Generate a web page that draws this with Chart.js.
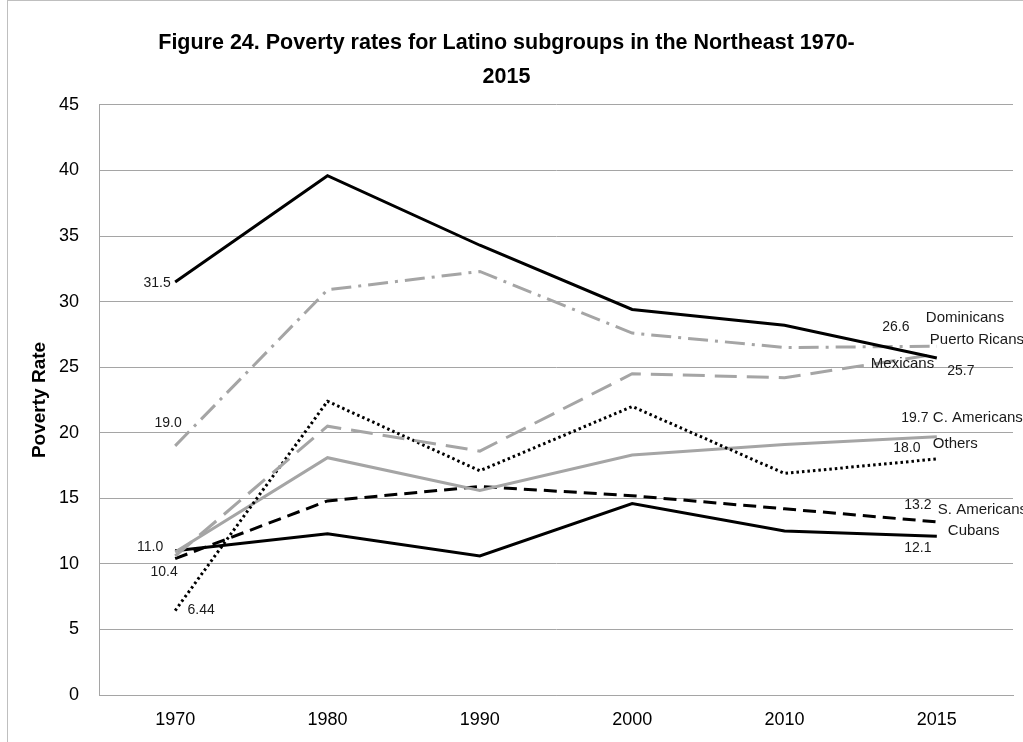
<!DOCTYPE html>
<html>
<head>
<meta charset="utf-8">
<title>Figure 24</title>
<script src="https://cdn.jsdelivr.net/npm/chart.js@4.4.1/dist/chart.umd.min.js"></script>
<style>
  html, body { margin: 0; padding: 0; background: #fff; overflow: hidden; }
  #wrap { position: relative; width: 1023px; height: 742px; }
  #frame { position: absolute; left: 7px; top: 0; width: 1100px; height: 800px;
           border: 1px solid #bfbfbf; pointer-events: none; }
</style>
</head>
<body>
<div id="wrap">
  <canvas id="povertyChart" width="1023" height="742"></canvas>
  <div id="frame"></div>
</div>
<script>
// Data
const years = ["1970", "1980", "1990", "2000", "2010", "2015"];
const puertoRicans = [31.5, 39.6, 34.3, 29.4, 28.2, 25.7];
const dominicans   = [19.0, 30.9, 32.3, 27.6, 26.5, 26.6];
const mexicans     = [10.6, 20.5, 18.6, 24.5, 24.2, 26.0];
const others       = [6.44, 22.4, 17.1, 22.0, 16.9, 18.0];
const cAmericans   = [10.9, 18.1, 15.6, 18.3, 19.1, 19.7];
const sAmericans   = [10.4, 14.8, 15.9, 15.2, 14.2, 13.2];
const cubans       = [11.0, 12.3, 10.6, 14.6, 12.5, 12.1];
const yTicks = [0, 5, 10, 15, 20, 25, 30, 35, 40, 45];

const grey = "#a5a5a5";
const labelFont = "Liberation Sans, Arial, sans-serif";

// which point gets a value label: [dataset, point, dx, dy]
const valueLabels = [
  [0, 0, -18, 1], [1, 0, -7, -23], [6, 0, -25, -4], [5, 0, -11, 14], [3, 0, 26, 0],
  [1, 5, -41, -19], [0, 5, 24, 13], [4, 5, -22, -19], [3, 5, -30, -11],
  [5, 5, -19, -17], [6, 5, -19, 12]
];
// series name labels near the last point: [dataset, dx, dy]
const nameLabels = [
  [1, -11, -28], [0, -7, -18], [2, -66, 10], [4, -4, -19],
  [3, -4, -15], [5, 1, -12], [6, 11, -5]
];

function fmt(v) {
  return Number.isInteger(Math.round(v * 100) / 10) ? v.toFixed(1) : String(v);
}

const labelPlugin = {
  id: "pointLabels",
  afterDatasetsDraw(chart) {
    const c = chart.ctx;
    c.save();
    c.fillStyle = "#1a1a1a";
    c.textBaseline = "middle";
    c.font = "14px " + labelFont;
    c.textAlign = "center";
    valueLabels.forEach(([d, i, dx, dy]) => {
      const pt = chart.getDatasetMeta(d).data[i];
      c.fillText(fmt(chart.data.datasets[d].data[i]), pt.x + dx, pt.y + dy);
    });
    c.font = "15px " + labelFont;
    c.textAlign = "left";
    nameLabels.forEach(([d, dx, dy]) => {
      const ds = chart.data.datasets[d];
      const pt = chart.getDatasetMeta(d).data[ds.data.length - 1];
      c.fillText(ds.label, pt.x + dx, pt.y + dy);
    });
    c.restore();
  }
};

function series(label, data, color, dash) {
  return {
    label: label, data: data, borderColor: color, backgroundColor: color,
    borderWidth: 3, borderDash: dash, pointRadius: 0, tension: 0, fill: false
  };
}

new Chart(document.getElementById("povertyChart"), {
  type: "line",
  data: {
    labels: years,
    datasets: [
      series("Puerto Ricans", puertoRicans, "#000", []),
      series("Dominicans", dominicans, grey, [20, 7, 3, 7]),
      series("Mexicans", mexicans, grey, [22, 10]),
      series("Others", others, "#000", [2.5, 3]),
      series("C. Americans", cAmericans, grey, []),
      series("S. Americans", sAmericans, "#000", [13, 7]),
      series("Cubans", cubans, "#000", [])
    ]
  },
  options: {
    responsive: false,
    animation: false,
    layout: { padding: { left: 0, right: 10, top: 0, bottom: 0 } },
    plugins: {
      legend: { display: false },
      tooltip: { enabled: false },
      title: {
        display: true,
        text: ["Figure 24. Poverty rates for Latino subgroups in the Northeast 1970-", "2015"],
        color: "#000",
        font: { family: "Liberation Sans, Arial, sans-serif", size: 21.5, weight: "bold", lineHeight: 1.58 },
        padding: { top: 26, bottom: 11 }
      }
    },
    scales: {
      x: {
        offset: true,
        grid: { display: false, drawTicks: false },
        border: { display: true, color: grey, width: 1 },
        ticks: { color: "#000", padding: 14, font: { family: labelFont, size: 18 } },
        afterFit(s) { s.height = 47; }
      },
      y: {
        min: 0, max: 45,
        afterBuildTicks(s) { s.ticks = yTicks.map(v => ({ value: v })); },
        grid: { color: grey, drawTicks: false },
        border: { display: true, color: grey, width: 1 },
        ticks: { color: "#000", padding: 20, font: { family: labelFont, size: 18 } },
        title: {
          display: true, text: "Poverty Rate", color: "#000",
          font: { family: labelFont, size: 19, weight: "bold" },
          padding: { top: 28, bottom: 0 }
        },
        afterFit(s) { s.width = 99; }
      }
    }
  },
  plugins: [labelPlugin]
});
</script>
</body>
</html>
